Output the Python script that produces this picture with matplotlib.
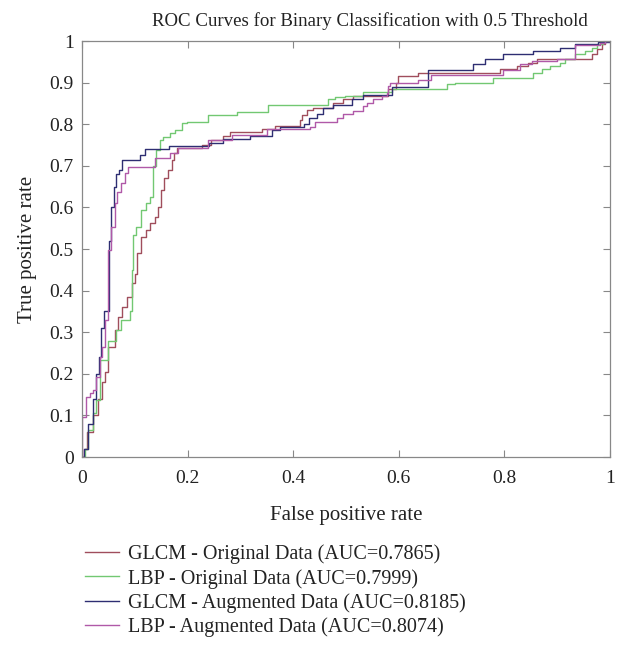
import matplotlib
matplotlib.use('Agg')
import matplotlib.pyplot as plt

plt.rcParams['font.family'] = ['Liberation Serif', 'DejaVu Serif']

# ROC step points: (fpr where the curve rises, tpr after the rise)
glcm_orig_fpr = [0, 0.003, 0.01, 0.02, 0.03, 0.038, 0.044, 0.05, 0.063, 0.068, 0.076, 0.085,
                 0.095, 0.1, 0.104, 0.112, 0.121, 0.128, 0.138, 0.144, 0.15, 0.155, 0.163,
                 0.17, 0.175, 0.18, 0.227, 0.245, 0.267, 0.28, 0.341, 0.366, 0.413, 0.416,
                 0.426, 0.438, 0.475, 0.494, 0.513, 0.58, 0.595, 0.599, 0.636, 0.792, 0.824,
                 0.845, 0.862, 0.966, 0.975, 0.985, 0.99, 1.0]
glcm_orig_tpr = [0, 0.02, 0.06, 0.1, 0.14, 0.18, 0.204, 0.264, 0.305, 0.337, 0.36, 0.385,
                 0.418, 0.44, 0.49, 0.529, 0.546, 0.562, 0.577, 0.601, 0.642, 0.67, 0.69,
                 0.714, 0.731, 0.743, 0.75, 0.762, 0.772, 0.781, 0.788, 0.796, 0.81, 0.822,
                 0.834, 0.839, 0.851, 0.861, 0.868, 0.885, 0.9, 0.916, 0.923, 0.933, 0.94,
                 0.947, 0.957, 0.969, 0.98, 0.993, 1.0, 1.0]

lbp_orig_fpr = [0, 0.005, 0.011, 0.021, 0.027, 0.034, 0.049, 0.064, 0.074, 0.09, 0.095, 0.097,
                0.103, 0.112, 0.121, 0.128, 0.134, 0.14, 0.148, 0.153, 0.167, 0.176, 0.189,
                0.199, 0.239, 0.293, 0.352, 0.466, 0.479, 0.498, 0.532, 0.587, 0.691, 0.706,
                0.778, 0.854, 0.871, 0.886, 0.905, 0.915, 0.934, 0.953, 0.966, 0.975, 0.987, 1.0]
lbp_orig_tpr = [0, 0.02, 0.065, 0.105, 0.137, 0.233, 0.28, 0.305, 0.33, 0.35, 0.45, 0.534,
                0.553, 0.594, 0.61, 0.625, 0.70, 0.738, 0.762, 0.769, 0.779, 0.786, 0.803,
                0.805, 0.822, 0.829, 0.846, 0.86, 0.865, 0.868, 0.877, 0.885, 0.897, 0.899,
                0.911, 0.923, 0.933, 0.94, 0.947, 0.957, 0.969, 0.976, 0.983, 0.993, 1.0, 1.0]

glcm_aug_fpr = [0, 0.004, 0.012, 0.02, 0.026, 0.032, 0.036, 0.042, 0.052, 0.055, 0.06, 0.065,
                0.07, 0.075, 0.11, 0.12, 0.165, 0.24, 0.267, 0.318, 0.36, 0.375, 0.42, 0.43,
                0.445, 0.457, 0.475, 0.511, 0.532, 0.587, 0.655, 0.74, 0.763, 0.797, 0.854,
                0.905, 0.934, 0.977, 1.0]
glcm_aug_tpr = [0, 0.02, 0.08, 0.14, 0.20, 0.24, 0.31, 0.35, 0.52, 0.60, 0.65, 0.68,
                0.69, 0.715, 0.727, 0.74, 0.748, 0.755, 0.765, 0.772, 0.786, 0.793, 0.80, 0.815,
                0.825, 0.838, 0.846, 0.861, 0.870, 0.89, 0.93, 0.945, 0.957, 0.969, 0.976,
                0.983, 0.993, 0.998, 1.0]

lbp_aug_fpr = [0, 0.0, 0.008, 0.015, 0.021, 0.027, 0.034, 0.038, 0.044, 0.049, 0.055, 0.062,
               0.067, 0.074, 0.081, 0.087, 0.138, 0.167, 0.182, 0.239, 0.284, 0.35, 0.432,
               0.441, 0.483, 0.494, 0.513, 0.532, 0.54, 0.551, 0.568, 0.578, 0.58, 0.583,
               0.636, 0.66, 0.797, 0.83, 0.852, 0.9, 0.934, 0.981, 0.99, 1.0]
lbp_aug_tpr = [0, 0.096, 0.144, 0.154, 0.161, 0.192, 0.24, 0.264, 0.33, 0.497, 0.553, 0.61,
               0.637, 0.658, 0.683, 0.697, 0.719, 0.731, 0.743, 0.762, 0.774, 0.788, 0.793,
               0.805, 0.815, 0.825, 0.832, 0.844, 0.851, 0.861, 0.868, 0.875, 0.892, 0.899,
               0.906, 0.918, 0.93, 0.945, 0.952, 0.957, 0.99, 0.995, 1.0, 1.0]

labels = ['GLCM - Original Data (AUC=0.7865)',
          'LBP - Original Data (AUC=0.7999)',
          'GLCM - Augmented Data (AUC=0.8185)',
          'LBP - Augmented Data (AUC=0.8074)']
colors = ['#a04e5c', '#72c872', '#2e2e72', '#b059a8']

fig = plt.figure(figsize=(6.22, 6.5), dpi=100)
ax = fig.add_axes([0.1318, 0.2969, 0.849, 0.64])

curves = [(glcm_orig_fpr, glcm_orig_tpr), (lbp_orig_fpr, lbp_orig_tpr),
          (glcm_aug_fpr, glcm_aug_tpr), (lbp_aug_fpr, lbp_aug_tpr)]
for (fx, fy), lab, col in zip(curves, labels, colors):
    ax.step(fx, fy, where='post', color=col, lw=1.0, label=lab)

ax.set_xlim(0, 1)
ax.set_ylim(0, 1)
ax.set_xticks([0, 0.2, 0.4, 0.6, 0.8, 1])
ax.set_xticklabels(['0', '0.2', '0.4', '0.6', '0.8', '1'])
ax.set_yticks([i / 10 for i in range(11)])
ax.set_yticklabels(['0'] + ['0.%d' % i for i in range(1, 10)] + ['1'])
ax.tick_params(direction='in', top=True, right=True, length=5, color='#888888',
               labelsize=14, labelcolor='#222222')
ax.tick_params(axis='x', pad=9)
ax.tick_params(axis='y', pad=6)
for s in ax.spines.values():
    s.set_color('#888888')
    s.set_linewidth(0.9)

ax.set_title('ROC Curves for Binary Classification with 0.5 Threshold', fontsize=13.6,
             color='#222222', x=0.5445, pad=11)
ax.set_xlabel('False positive rate', fontsize=15, color='#222222', labelpad=14)
ax.set_ylabel('True positive rate', fontsize=15, color='#222222', labelpad=9)

fig.legend(loc='upper left', bbox_to_anchor=(0.108, 0.19), frameon=False, fontsize=14.5,
           handlelength=1.65, handletextpad=0.45, labelspacing=0.22, labelcolor='#222222')

plt.savefig('out.png', dpi=100)
